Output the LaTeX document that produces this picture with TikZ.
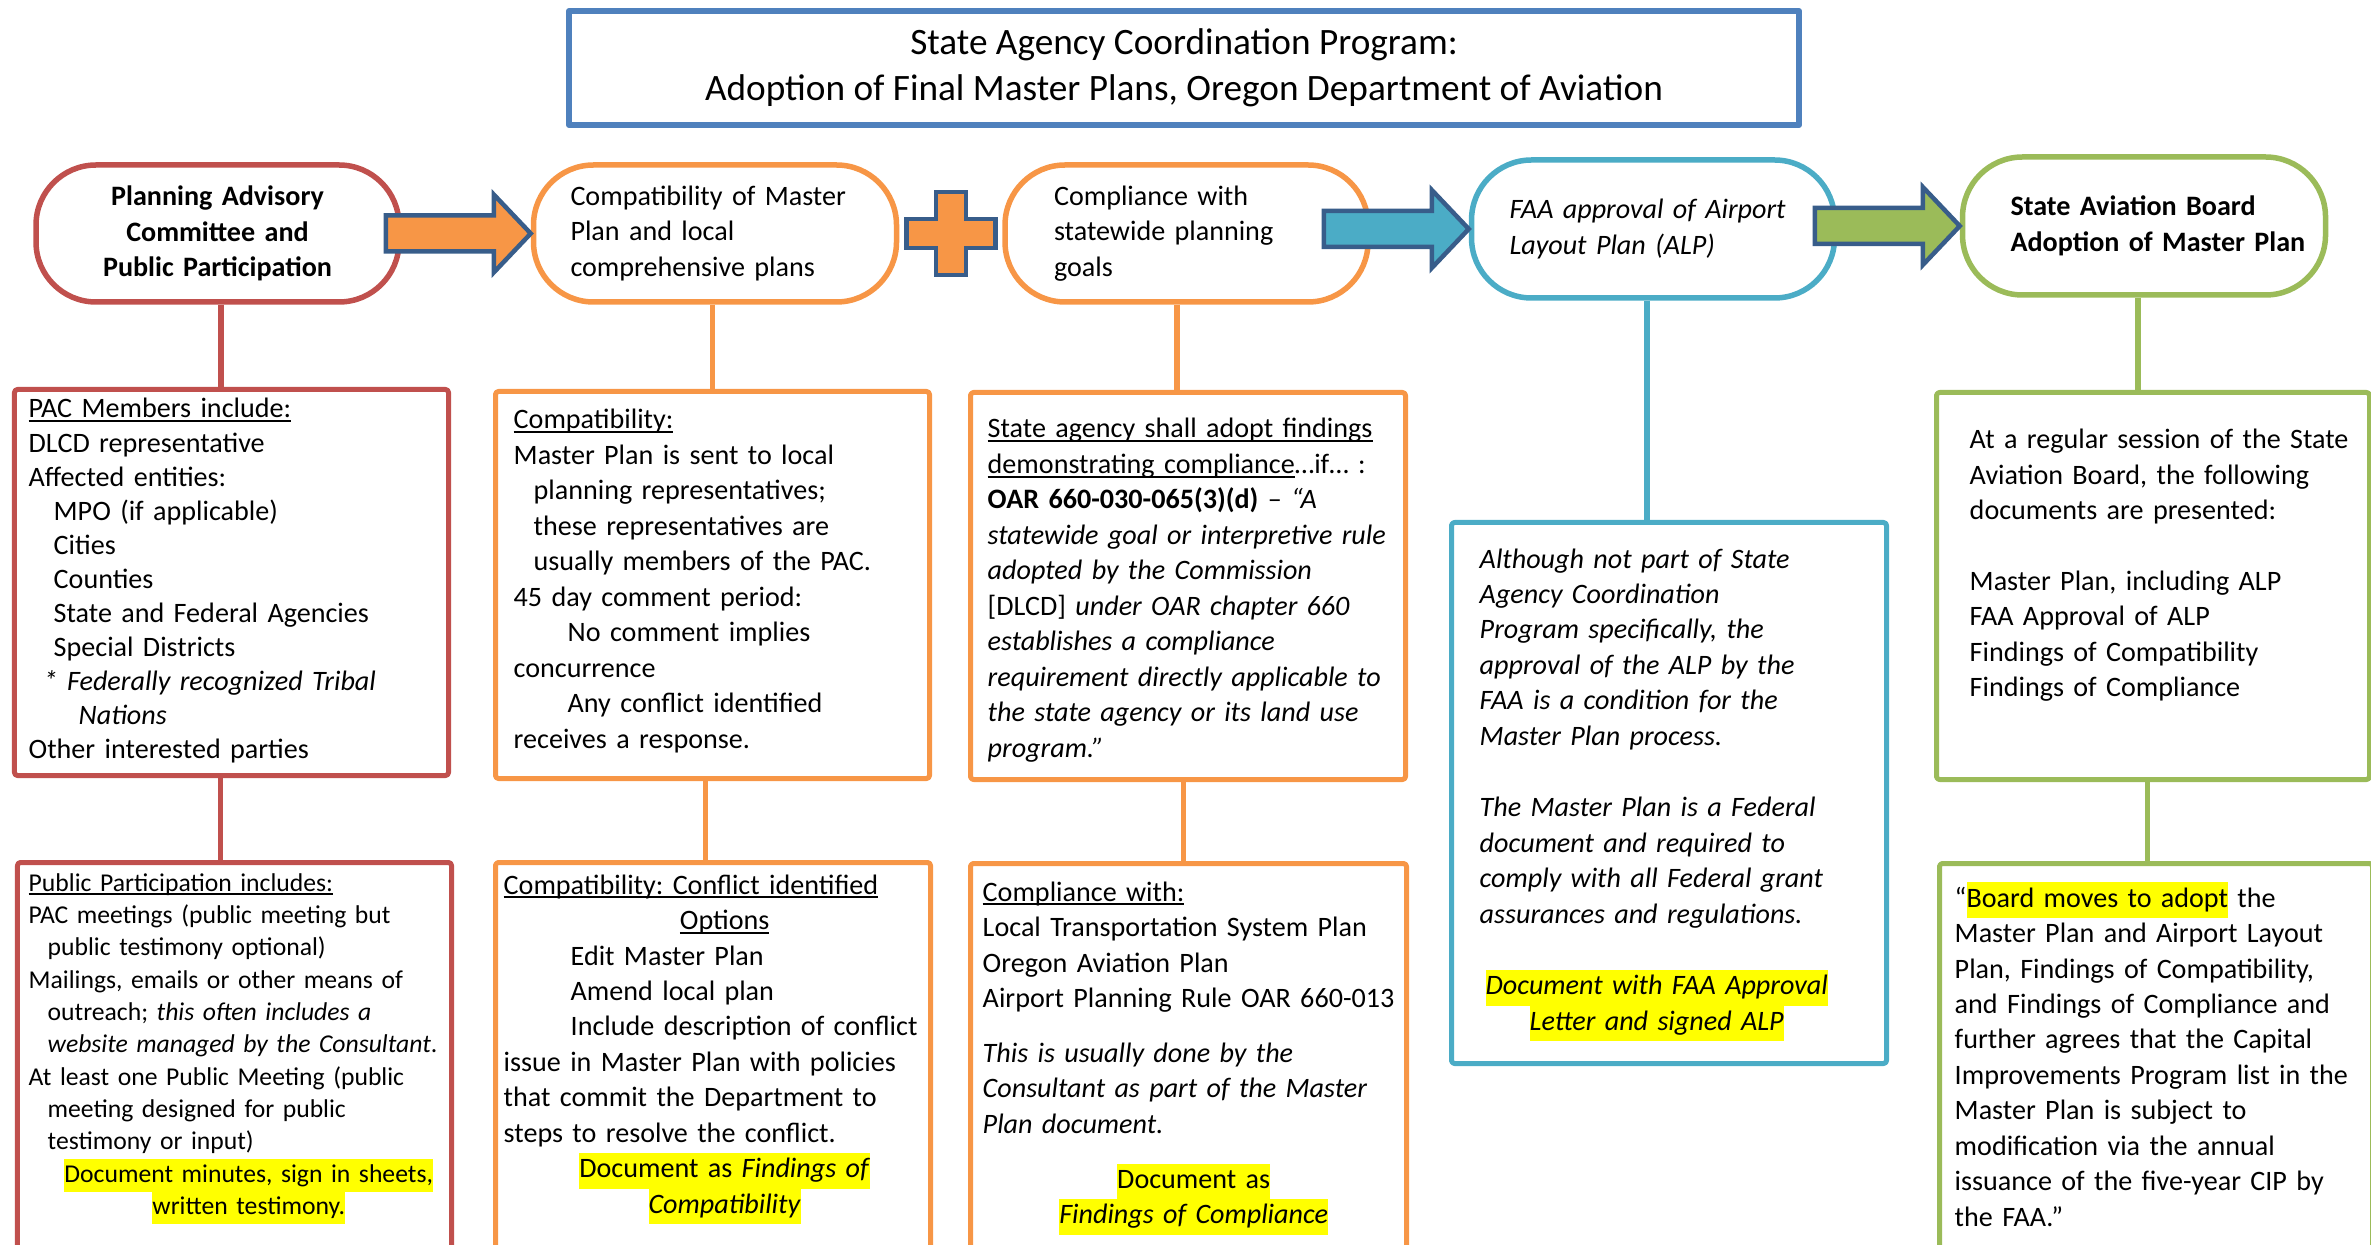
\documentclass[tikz,border=0pt]{standalone}
\usepackage{fontspec}
\setmainfont{Carlito}
\usetikzlibrary{calc}
\frenchspacing

\definecolor{pacred}{HTML}{C0504D}
\definecolor{planorange}{HTML}{F79646}
\definecolor{faablue}{HTML}{4BACC6}
\definecolor{boardgreen}{HTML}{9BBB59}
\definecolor{titleblue}{HTML}{4F81BD}
\definecolor{edgeblue}{HTML}{385D8A}
\definecolor{hlyellow}{HTML}{FFFF00}

\newcommand{\hlite}[1]{{\setlength{\fboxsep}{0pt}\colorbox{hlyellow}{\strut #1}}}
\newsavebox{\ulinebox}
\newcommand{\uln}[1]{\leavevmode\sbox{\ulinebox}{#1}\rlap{\rule[-1.2pt]{\wd\ulinebox}{0.5pt}}\usebox{\ulinebox}}

\begin{document}
\begin{tikzpicture}[
    line join=round,
    stage/.style = {draw, fill=white, line width=0.55mm, rounded corners=6mm, minimum width=3.63cm, minimum height=1.37cm, inner sep=0pt, align=left, font=\fontsize{8}{10.1}\selectfont},
    panel/.style = {draw, line width=0.5mm, rounded corners=0.3mm, anchor=north west, inner sep=0pt},
    paneltext/.style = {anchor=base west, inner sep=0pt, text width=5cm, align=left, font=\fontsize{8}{10.1}\selectfont},
    link/.style = {line width=0.55mm},
    blockarrow/.style = {draw=edgeblue, line width=0.45mm, line join=miter}
]

\useasboundingbox (0,0) rectangle (23.71,-12.45);
\clip (0,0) rectangle (23.71,-12.45);

\node[draw=titleblue, line width=0.6mm, minimum width=12.3cm, minimum height=1.14cm, align=center, font=\fontsize{10.6}{13}\selectfont] (title) at (11.84,-0.68) {State Agency Coordination Program:\\Adoption of Final Master Plans, Oregon Department of Aviation};

% boxes
\node[panel, draw=pacred, minimum width=4.34cm, minimum height=3.86cm] (pacBox) at (0.12,-3.87) {};
\node[panel, draw=pacred, minimum width=4.34cm, minimum height=4.2cm] (pubBox) at (0.15,-8.60) {};
\node[panel, draw=planorange, minimum width=4.34cm, minimum height=3.87cm] (compatBox) at (4.93,-3.89) {};
\node[panel, draw=planorange, minimum width=4.35cm, minimum height=4.2cm] (conflictBox) at (4.93,-8.60) {};
\node[panel, draw=planorange, minimum width=4.35cm, minimum height=3.87cm] (complyBox) at (9.68,-3.90) {};
\node[panel, draw=planorange, minimum width=4.36cm, minimum height=4.2cm] (findBox) at (9.68,-8.61) {};
\node[panel, draw=faablue, minimum width=4.35cm, minimum height=5.41cm] (faaBox) at (14.49,-5.20) {};
\node[panel, draw=boardgreen, minimum width=4.33cm, minimum height=3.87cm] (boardBox) at (19.34,-3.90) {};
\node[panel, draw=boardgreen, minimum width=4.33cm, minimum height=4.2cm] (motionBox) at (19.37,-8.61) {};

% stages
\node[stage, draw=pacred, text width=3.0cm, align=center, font=\fontsize{8}{10.1}\selectfont\bfseries] (o1) at (2.175,-2.335) {Planning Advisory\\Committee and\\Public Participation};
\node[stage, draw=planorange, text width=2.89cm] (o2) at (7.15,-2.335) {\mbox{Compatibility of Master}\\Plan and local\\comprehensive plans};
\node[stage, draw=planorange, text width=2.65cm] (o3) at (11.865,-2.335) {Compliance with\\statewide planning\\goals};
\node[stage, draw=faablue, text width=2.87cm, minimum height=1.38cm, font=\fontsize{8}{10.1}\selectfont\itshape] (o4) at (16.53,-2.29) {\mbox{FAA approval of Airport}\\Layout Plan (ALP)};
\node[stage, draw=boardgreen, text width=2.67cm, minimum height=1.38cm, font=\fontsize{8}{10.1}\selectfont\bfseries] (o5) at (21.44,-2.26) {\mbox{State Aviation Board}\\\mbox{Adoption of Master Plan}};

\draw[link, pacred] ([xshift=0.035cm]o1.south) coordinate (t1) -- (t1 |- pacBox.north);
\draw[link, pacred] ([xshift=-0.11cm]pacBox.south) coordinate (b1) -- (b1 |- pubBox.north);
\draw[link, planorange] ([xshift=-0.025cm]o2.south) coordinate (t2) -- (t2 |- compatBox.north);
\draw[link, planorange] ([xshift=-0.07cm]compatBox.south) coordinate (b2) -- (b2 |- conflictBox.north);
\draw[link, planorange] ([xshift=-0.095cm]o3.south) coordinate (t3) -- (t3 |- complyBox.north);
\draw[link, planorange] ([xshift=-0.045cm]complyBox.south) coordinate (b3) -- (b3 |- findBox.north);
\draw[link, faablue] ([xshift=-0.06cm]o4.south) coordinate (t4) -- (t4 |- faaBox.north);
\draw[link, boardgreen] ([xshift=-0.06cm]o5.south) coordinate (t5) -- (t5 |- boardBox.north);
\draw[link, boardgreen] ([xshift=-0.055cm]boardBox.south) coordinate (b5) -- (b5 |- motionBox.north);

% block arrows and plus
\draw[blockarrow, fill=planorange] (o2.west) --++ (-0.37,0.39) --++ (0,-0.21) --++ (-1.08,0) --++ (0,-0.36) --++ (1.08,0) --++ (0,-0.21) -- cycle;
\draw[blockarrow, fill=faablue] (o4.west) --++ (-0.37,0.39) --++ (0,-0.21) --++ (-1.08,0) --++ (0,-0.36) --++ (1.08,0) --++ (0,-0.21) -- cycle;
\draw[blockarrow, fill=boardgreen] (o5.west) --++ (-0.37,0.39) --++ (0,-0.21) --++ (-1.08,0) --++ (0,-0.36) --++ (1.08,0) --++ (0,-0.21) -- cycle;

\coordinate (plus) at ($(o2.east)!0.5!(o3.west)$);
\draw[blockarrow, fill=planorange] (plus) ++ (-0.15,0.415) --++ (0.3,0) --++ (0,-0.27) --++ (0.295,0) --++ (0,-0.29) --++ (-0.295,0) --++ (0,-0.27) --++ (-0.3,0) --++ (0,0.27) --++ (-0.295,0) --++ (0,0.29) --++ (0.295,0) -- cycle;

% texts
\node[paneltext, font=\fontsize{8}{9.7}\selectfont] (pacTxt) at ([shift={(0.16,-0.31)}]pacBox.north west) {\uln{PAC Members include:}\\
DLCD representative\\
Affected entities:\\
\hspace*{0.25cm}MPO (if applicable)\\
\hspace*{0.25cm}Cities\\
\hspace*{0.25cm}Counties\\
\hspace*{0.25cm}State and Federal Agencies\\
\hspace*{0.25cm}Special Districts\\
\hspace*{0.15cm}\textit{* Federally recognized Tribal}\\
\hspace*{0.5cm}\textit{Nations}\\
Other interested parties};

\node[paneltext, font=\fontsize{7.3}{9.2}\selectfont] (pubTxt) at ([shift={(0.13,-0.31)}]pubBox.north west) {\uln{Public Participation includes:}\\
PAC meetings (public meeting but\\
\hspace*{0.19cm}public testimony optional)\\
Mailings, emails or other means of\\
\hspace*{0.19cm}outreach; \textit{this often includes a}\\
\hspace*{0.19cm}\textit{website managed by the Consultant}.\\
At least one Public Meeting (public\\
\hspace*{0.19cm}meeting designed for public\\
\hspace*{0.19cm}testimony or input)\\
\hspace*{0.2cm}\makebox[4.0cm]{\hlite{Document minutes, sign in sheets,}}\\
\hspace*{0.2cm}\makebox[4.0cm]{\hlite{written testimony.}}};

\begin{scope}
\clip (compatBox.north west) rectangle ([yshift=0.23cm]compatBox.south east);
\node[paneltext] (compatTxt) at ([shift={(0.20,-0.40)}]compatBox.north west) {\uln{Compatibility:}\\
Master Plan is sent to local\\
\hspace*{0.2cm}planning representatives;\\
\hspace*{0.2cm}these representatives are\\
\hspace*{0.2cm}usually members of the PAC.\\
45 day comment period:\\
\hspace*{0.54cm}No comment implies\\
concurrence\\
\hspace*{0.54cm}Any conflict identified\\
receives a response.};
\end{scope}

\node[paneltext] (conflictTxt) at ([shift={(0.10,-0.34)}]conflictBox.north west) {\uln{Compatibility: Conflict identified}\\
\makebox[4.42cm]{\uln{Options}}\\
\hspace*{0.67cm}Edit Master Plan\\
\hspace*{0.67cm}Amend local plan\\
\hspace*{0.67cm}Include description of conflict\\
issue in Master Plan with policies\\
that commit the Department to\\
steps to resolve the conflict.\\
\makebox[4.42cm]{\hlite{Document as \textit{Findings of}}}\\
\makebox[4.42cm]{\hlite{\textit{Compatibility}}}};

\node[paneltext] (complyTxt) at ([shift={(0.19,-0.48)}]complyBox.north west) {\uln{State agency shall adopt findings}\\
\uln{demonstrating compliance}…if… :\\
\textbf{OAR 660-030-065(3)(d)} – \textit{“A}\\
\textit{statewide goal or interpretive rule}\\
\textit{adopted by the Commission}\\ {}[DLCD] \textit{under OAR chapter 660}\\
\textit{establishes a compliance}\\
\textit{requirement directly applicable to}\\
\textit{the state agency or its land use}\\
\textit{program.”}};

\node[paneltext] (findTxt) at ([shift={(0.14,-0.40)}]findBox.north west) {\uln{Compliance with:}\\
Local Transportation System Plan\\
Oregon Aviation Plan\\
Airport Planning Rule OAR 660-013\\[0.195cm]
\textit{This is usually done by the}\\
\textit{Consultant as part of the Master}\\
\textit{Plan document.}\\[0.195cm]
\makebox[4.22cm]{\hlite{Document as}}\\
\makebox[4.22cm]{\hlite{\textit{Findings of Compliance}}}};

\node[paneltext, font=\fontsize{8}{10.1}\selectfont\itshape] (faaTxt) at ([shift={(0.30,-0.48)}]faaBox.north west) {Although not part of State\\
Agency Coordination\\
Program specifically, the\\
approval of the ALP by the\\
FAA is a condition for the\\
Master Plan process.\\[0.36cm]
The Master Plan is a Federal\\
document and required to\\
comply with all Federal grant\\
assurances and regulations.\\[0.36cm]
\makebox[3.54cm]{\hlite{Document with FAA Approval}}\\
\makebox[3.54cm]{\hlite{Letter and signed ALP}}};

\node[paneltext] (boardTxt) at ([shift={(0.35,-0.59)}]boardBox.north west) {At a regular session of the State\\
Aviation Board, the following\\
documents are presented:\\[0.35cm]
Master Plan, including ALP\\
FAA Approval of ALP\\
Findings of Compatibility\\
Findings of Compliance};

\node[paneltext] (motionTxt) at ([shift={(0.17,-0.46)}]motionBox.north west) {“\hlite{Board moves to adopt} the\\
Master Plan and Airport Layout\\
Plan, Findings of Compatibility,\\
and Findings of Compliance and\\
further agrees that the Capital\\
Improvements Program list in the\\
Master Plan is subject to\\
modification via the annual\\
issuance of the five-year CIP by\\
the FAA.”};

\end{tikzpicture}
\end{document}
